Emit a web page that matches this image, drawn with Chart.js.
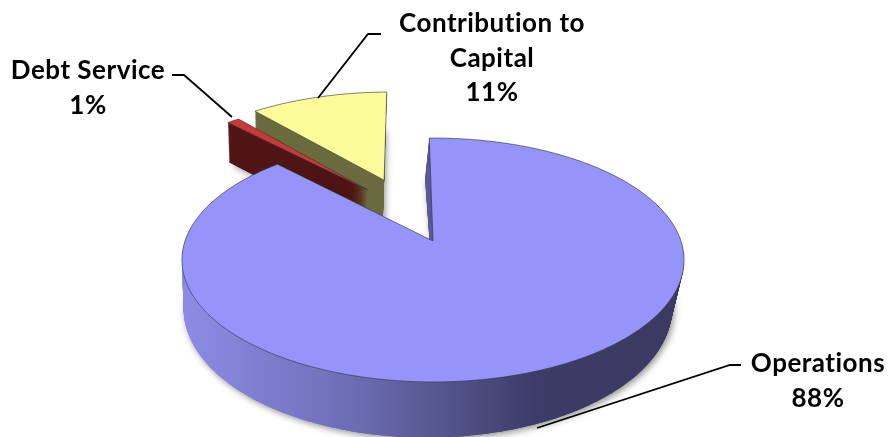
<!DOCTYPE html>
<html>
<head>
<meta charset="utf-8">
<title>Budget pie</title>
<script src="https://cdn.jsdelivr.net/npm/chart.js@4"></script>
<style>
  html, body { margin: 0; padding: 0; background: #fff; }
  #box { width: 890px; height: 437px; }
</style>
</head>
<body>
<div id="box"><canvas id="grafico"></canvas></div>
<script>
const categories = ['Operations', 'Debt Service', 'Contribution to Capital'];
const values = [88, 1, 11];
const explode = [0, 0.54, 0.595];
const explodeTurn = [0, 0.19, -0.005];

// Label lines and leader lines, in canvas pixels
const labelLines = [['Operations'], ['Debt Service'], ['Contribution to', 'Capital']];
const labelPos = [[818, 364], [88, 71], [492, 24]];
const leaders = [
  [[741, 365], [730, 365], [537, 428]],
  [[172, 75], [184, 75], [232, 117]],
  [[381, 34], [368, 34], [318, 98]]
];

const topColors = ['#9494fa', '#c83a3a', '#fbfb99'];
const sideStops = [
  [[0, '#8c8ce6'], [0.35, '#6c6cb4'], [0.72, '#3c3c68'], [1, '#3a3a62']],
  [[0, '#521515'], [1, '#441010']],
  [[0, '#6a6a3e'], [1, '#6a6a3e']]
];

// Perspective of the pie plane
const view = { x: 433, y: 241, rx: 248, ry: 119, tilt: -0.1557, depth: 47, skew: -5, shrink: 0.027 };

function project(u, v, z) {
  const w = 1 + view.tilt * v;
  const r = Math.min(1, Math.hypot(u, v));
  return [
    view.x + (view.rx * (1 - view.shrink * z) * u + view.skew * z * r) / w,
    view.y + (view.ry * v + view.depth * z) / w
  ];
}

function tracePath(ctx, arc, i, z) {
  const mid = (arc.startAngle + arc.endAngle) / 2 + explodeTurn[i];
  const cu = Math.cos(mid) * explode[i];
  const cv = Math.sin(mid) * explode[i];
  ctx.beginPath();
  let p = project(cu, cv, z);
  ctx.moveTo(p[0], p[1]);
  const steps = Math.max(4, Math.ceil((arc.endAngle - arc.startAngle) * 60));
  for (let k = 0; k <= steps; k++) {
    const a = arc.startAngle + (arc.endAngle - arc.startAngle) * k / steps;
    p = project(cu + Math.cos(a), cv + Math.sin(a), z);
    ctx.lineTo(p[0], p[1]);
  }
  ctx.closePath();
}

const pie3d = {
  id: 'pie3d',
  // Uses the angles Chart.js worked out, the library's flat draw is skipped
  beforeDatasetDraw(chart, args) {
    const ctx = chart.ctx;
    const arcs = args.meta.data;
    [2, 1, 0].forEach(i => {
      const arc = arcs[i];
      const grad = ctx.createLinearGradient(185, 0, 673, 0);
      sideStops[i].forEach(s => grad.addColorStop(s[0], s[1]));

      // soft shadow under the wall
      ctx.save();
      ctx.shadowColor = 'rgba(0,0,0,0.45)';
      ctx.shadowBlur = 7;
      ctx.shadowOffsetX = 2;
      ctx.shadowOffsetY = 2;
      tracePath(ctx, arc, i, 1);
      ctx.fillStyle = grad;
      ctx.fill();
      ctx.restore();

      ctx.fillStyle = grad;
      for (let z = 1; z > 0; z -= 0.015) {
        tracePath(ctx, arc, i, z);
        ctx.fill();
      }
      tracePath(ctx, arc, i, 0);
      ctx.fillStyle = topColors[i];
      ctx.fill();
      ctx.strokeStyle = 'rgba(50,50,50,0.75)';
      ctx.lineWidth = 0.8;
      ctx.stroke();
    });
    return false;
  },
  afterDraw(chart) {
    const ctx = chart.ctx;
    ctx.save();
    ctx.strokeStyle = '#000';
    ctx.lineWidth = 1.8;
    leaders.forEach(line => {
      ctx.beginPath();
      line.forEach((p, k) => k ? ctx.lineTo(p[0], p[1]) : ctx.moveTo(p[0], p[1]));
      ctx.stroke();
    });
    ctx.fillStyle = '#000';
    ctx.font = 'bold 26px Lato';
    ctx.letterSpacing = '0.5px';
    ctx.textAlign = 'center';
    ctx.textBaseline = 'middle';
    categories.forEach((nome, i) => {
      const linhas = labelLines[i].concat(values[i] + '%');
      linhas.forEach((t, k) => ctx.fillText(t, labelPos[i][0], labelPos[i][1] + k * 34.5));
    });
    ctx.restore();
  }
};

new Chart(document.getElementById('grafico'), {
  type: 'pie',
  data: {
    labels: categories,
    datasets: [{ data: values, backgroundColor: topColors }]
  },
  options: {
    responsive: true,
    maintainAspectRatio: false,
    animation: false,
    rotation: -1,
    plugins: { legend: { display: false } }
  },
  plugins: [pie3d]
});
</script>
</body>
</html>
